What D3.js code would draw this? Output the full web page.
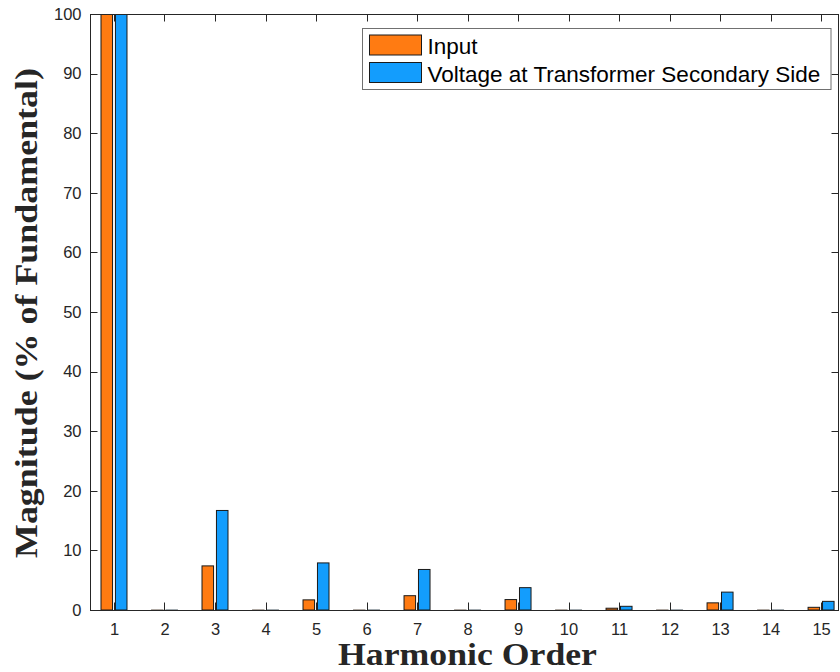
<!DOCTYPE html>
<html>
<head>
<meta charset="utf-8">
<script src="https://cdn.jsdelivr.net/npm/d3@7"></script>
<style>
  html, body { margin: 0; padding: 0; background: #fff; }
  svg { display: block; }
</style>
</head>
<body>
<svg id="chart" width="840" height="672"></svg>
<script>
// ---- data ----
const harmonics = [1, 2, 3, 4, 5, 6, 7, 8, 9, 10, 11, 12, 13, 14, 15];
const inputValues = [100, 0.03, 7.4, 0.03, 1.7, 0.03, 2.4, 0.03, 1.75, 0.03, 0.3, 0.03, 1.2, 0.03, 0.45];
const secondaryValues = [100, 0.03, 16.7, 0.03, 7.9, 0.03, 6.8, 0.03, 3.75, 0.03, 0.62, 0.03, 3.0, 0.03, 1.45];
const seriesNames = ["Input", "Voltage at Transformer Secondary Side"];
const seriesColors = ["#ff7b12", "#139dfd"];
const yTicks = [0, 10, 20, 30, 40, 50, 60, 70, 80, 90, 100];

// ---- layout ----
const svg = d3.select("#chart");
const pLeft = 90, pRight = 839, pTop = 14, pBottom = 610;
const axisColor = "#262626";
const tickLen = 7.5;

const x = d3.scaleLinear().domain([0.525, 15.355]).range([pLeft, pRight]);
const y = d3.scaleLinear().domain([0, 100]).range([pBottom, pTop]);

const barW = 0.2286;   // in category units
const offset = 0.143;

svg.append("defs").append("clipPath").attr("id", "plotclip")
  .append("rect").attr("x", pLeft).attr("y", pTop).attr("width", pRight - pLeft).attr("height", pBottom - pTop);

const series = [inputValues, secondaryValues];
const gBars = svg.append("g").attr("clip-path", "url(#plotclip)");
series.forEach((vals, si) => {
  const off = si === 0 ? -offset : offset;
  gBars.selectAll(null)
    .data(harmonics.map((h, i) => ({ h, v: vals[i] })))
    .enter().append("rect")
    .attr("x", d => x(d.h + off - barW / 2))
    .attr("width", d => x(d.h + off + barW / 2) - x(d.h + off - barW / 2))
    .attr("y", d => y(d.v))
    .attr("height", d => y(0) - y(d.v))
    .attr("fill", seriesColors[si])
    .attr("stroke", d => d.v < 0.1 ? "#8a8a8a" : "#1a1a1a")
    .attr("stroke-width", 1);
});

// axes
const fontSans = "'Liberation Sans', Arial, Helvetica, sans-serif";
const bottomAxis = d3.axisBottom(x).tickValues(harmonics).tickSize(0).tickFormat(d3.format("d"));
const gx = svg.append("g").attr("transform", `translate(0,${pBottom})`).call(bottomAxis);
gx.select(".domain").remove();
gx.selectAll("text").attr("y", 25).attr("dy", 0)
  .attr("font-family", fontSans).attr("font-size", 16.5).attr("fill", axisColor);

const leftAxis = d3.axisLeft(y).tickValues(yTicks).tickSize(0);
const gy = svg.append("g").attr("transform", `translate(${pLeft},0)`).call(leftAxis);
gy.select(".domain").remove();
gy.selectAll("text").attr("x", -8.5)
  .attr("font-family", fontSans).attr("font-size", 16.5).attr("fill", axisColor);

// box and inward ticks
const gFrame = svg.append("g").attr("stroke", axisColor).attr("stroke-width", 1).attr("fill", "none");
gFrame.append("rect").attr("x", pLeft + 0.5).attr("y", pTop + 0.5)
  .attr("width", pRight - pLeft - 1).attr("height", pBottom - pTop);
harmonics.forEach(h => {
  const px = Math.round(x(h)) + 0.5;
  gFrame.append("line").attr("x1", px).attr("x2", px).attr("y1", pBottom).attr("y2", pBottom - tickLen);
  gFrame.append("line").attr("x1", px).attr("x2", px).attr("y1", pTop).attr("y2", pTop + tickLen);
});
yTicks.forEach(t => {
  const py = Math.round(y(t)) + 0.5;
  gFrame.append("line").attr("x1", pLeft).attr("x2", pLeft + tickLen).attr("y1", py).attr("y2", py);
  gFrame.append("line").attr("x1", pRight).attr("x2", pRight - tickLen).attr("y1", py).attr("y2", py);
});

// axis labels
const fontSerif = "'Liberation Serif', 'Times New Roman', serif";
svg.append("text")
  .attr("x", 467.5).attr("y", 665)
  .attr("text-anchor", "middle")
  .attr("font-family", fontSerif).attr("font-weight", "bold").attr("font-size", 31)
  .attr("fill", axisColor)
  .attr("textLength", 259).attr("lengthAdjust", "spacingAndGlyphs")
  .text("Harmonic Order");

svg.append("text")
  .attr("transform", "translate(37,313) rotate(-90)")
  .attr("text-anchor", "middle")
  .attr("font-family", fontSerif).attr("font-weight", "bold").attr("font-size", 31)
  .attr("fill", axisColor)
  .attr("textLength", 490).attr("lengthAdjust", "spacingAndGlyphs")
  .text("Magnitude (% of Fundamental)");

// legend
const lg = svg.append("g");
lg.append("rect").attr("x", 362.5).attr("y", 28.5).attr("width", 468.5).attr("height", 61)
  .attr("fill", "#fff").attr("stroke", "#707070").attr("stroke-width", 1);
seriesNames.forEach((name, i) => {
  const sy = 35 + i * 27.5;
  lg.append("rect").attr("x", 369.5).attr("y", sy).attr("width", 52).attr("height", 20)
    .attr("fill", seriesColors[i]).attr("stroke", "#1a1a1a").attr("stroke-width", 1);
  lg.append("text").attr("x", 427.5).attr("y", sy + 19)
    .attr("font-family", fontSans).attr("font-size", 22.5).attr("fill", "#000")
    .text(name);
});
</script>
</body>
</html>
